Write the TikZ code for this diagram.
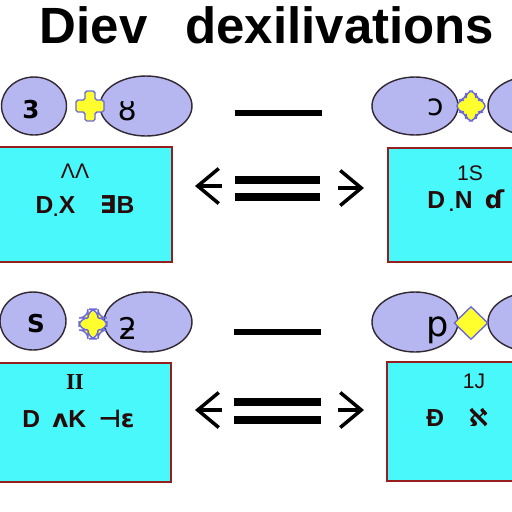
\documentclass[tikz,border=0pt]{standalone}
\usepackage{fontspec}
\setmainfont{Liberation Sans}
\newfontfamily\symfont{DejaVu Sans}
\newfontfamily\slabfont{Liberation Serif}
\usetikzlibrary{arrows.meta,positioning,shapes.geometric,calc}

\definecolor{lobefill}{RGB}{182,182,240}
\definecolor{lobeline}{RGB}{50,40,50}
\definecolor{jointfill}{RGB}{255,255,45}
\definecolor{jointline}{RGB}{105,105,220}
\definecolor{panelfill}{RGB}{72,248,250}
\definecolor{panelline}{RGB}{150,30,30}
\definecolor{ink}{RGB}{40,10,10}

\begin{document}
\begin{tikzpicture}[
  x=0.02cm, y=-0.02cm,
  lobe/.style={ellipse, draw=lobeline, fill=lobefill, line width=0.8pt, inner sep=0pt},
  joint/.style={draw=jointline, fill=jointfill, line width=0.8pt},
  panel/.style={rectangle, draw=panelline, fill=panelfill, line width=0.8pt, inner sep=0pt},
  glyph/.style={font=\symfont\bfseries\fontsize{14}{16}\selectfont, text=black, inner sep=0pt},
  paneltext/.style={font=\bfseries\fontsize{14}{16}\selectfont, text=ink, inner sep=0pt},
  bar/.style={line width=3.4pt},
  dbar/.style={line width=4pt},
  barb/.style={-{Straight Barb[length=0.42cm, width=0.7cm]}, line width=2pt}
]
\clip (0,0) rectangle (512,512);
\fill[white] (0,0) rectangle (512,512);

% Title
\node[font=\bfseries\fontsize{29}{34}\selectfont] (title) at (267,25)
  {Diev\hspace{0.76cm}dexilivations};

% Upper row: lobes and joints
\node[lobe, minimum width=1.3cm, minimum height=1.16cm] (e1L) at (34,106) {};
\node[lobe, minimum width=1.84cm, minimum height=1.2cm] (e1R) at (146,106) {};
\node[lobe, minimum width=1.72cm, minimum height=1.16cm] (e2L) at (415,106) {};
\node[lobe, minimum width=1.84cm, minimum height=1.2cm] (e2R) at (534,106) {};
\coordinate (j1) at (90,106);
\coordinate (j2) at (471,106);

% Lower row: lobes and joints
\node[lobe, minimum width=1.32cm, minimum height=1.16cm] (e3L) at (33,321) {};
\node[lobe, minimum width=1.76cm, minimum height=1.2cm] (e3R) at (148,322) {};
\node[lobe, minimum width=1.72cm, minimum height=1.2cm] (e4L) at (415,322) {};
\node[lobe, minimum width=1.84cm, minimum height=1.2cm] (e4R) at (534,322) {};
\coordinate (j3) at (93,324);
\node[joint, diamond, minimum width=0.68cm, minimum height=0.66cm, inner sep=0pt] (j4) at (471,323) {};

\foreach \j/\rc in {j1/1pt, j2/4pt, j3/5pt}
  \draw[joint, rounded corners=\rc] (\j) ++(-14,-6) -- ++(9,0) -- ++(0,-9) -- ++(10,0)
    -- ++(0,9) -- ++(9,0) -- ++(0,12) -- ++(-9,0) -- ++(0,9) -- ++(-10,0)
    -- ++(0,-9) -- ++(-9,0) -- cycle;

% Lobe glyphs
\node[glyph] at (31,110) {3};
\node[glyph, font=\symfont\fontsize{17}{19}\selectfont] at (128,111) {ȣ};
\node[glyph, font=\symfont\fontsize{17}{19}\selectfont] at (436,107) {ɔ};
\node[glyph] at (36,324) {S};
\node[glyph, font=\symfont\fontsize{17}{19}\selectfont] at (128,328) {ƻ};
\node[glyph, font=\symfont\fontsize{20}{22}\selectfont] at (438,330) {p};

% Panels
\node[panel, minimum width=3.48cm, minimum height=2.3cm] (b1) at (85,204.5) {};
\node[panel, minimum width=3.16cm, minimum height=2.28cm] (b2) at (467,205) {};
\node[panel, minimum width=3.46cm, minimum height=2.38cm] (b3) at (84.5,422.5) {};
\node[panel, minimum width=3.18cm, minimum height=2.38cm] (b4) at (466.5,421.5) {};

% Panel texts
\node[paneltext, font=\fontsize{12}{14}\selectfont, anchor=base] at (75,178) {ΛΛ};
\node[paneltext, anchor=base] at (85,213) {D\textsubscript{\textbf{.}}X\quad{\symfont ∃}B};
\node[paneltext, font=\fontsize{12}{14}\selectfont, anchor=base] at (470,180) {1S};
\node[paneltext, anchor=base west] at (427,208) {D\,\textsubscript{\textbf{.}}N\enspace{\symfont ɗ}};
\node[paneltext, font=\slabfont\bfseries\fontsize{13}{15}\selectfont, anchor=base] at (75,389) {II};
\node[paneltext, anchor=base west] at (22,427) {D\enspace{\symfont ʌ}K\enspace{\symfont ⊣ɛ}};
\node[paneltext, font=\fontsize{12}{14}\selectfont, anchor=base] at (474,388) {1J};
\node[paneltext, anchor=base west] at (426,426) {Ð\quad{\symfont ℵ}};

% Bars between the panels
\coordinate (s1a) at (235,113); \coordinate (s1b) at (322,113);
\coordinate (d1a) at (235,180); \coordinate (d1b) at (320,180);
\coordinate (d2a) at (235,197); \coordinate (d2b) at (320,197);
\coordinate (s2a) at (234,332); \coordinate (s2b) at (321,332);
\coordinate (d3a) at (234,402); \coordinate (d3b) at (321,402);
\coordinate (d4a) at (234,420); \coordinate (d4b) at (321,420);
\draw[bar] (s1a) -- (s1b);
\draw[dbar] (d1a) -- (d1b);
\draw[dbar] (d2a) -- (d2b);
\draw[bar] (s2a) -- (s2b);
\draw[dbar] (d3a) -- (d3b);
\draw[dbar] (d4a) -- (d4b);

% Arrowheads
\coordinate (a1s) at (222,186); \coordinate (a1t) at (195,186);
\coordinate (a2s) at (338,188); \coordinate (a2t) at (364,188);
\coordinate (a3s) at (222,410); \coordinate (a3t) at (195,410);
\coordinate (a4s) at (338,410); \coordinate (a4t) at (364,410);
\draw[barb] (a1s) -- (a1t);
\draw[barb] (a2s) -- (a2t);
\draw[barb] (a3s) -- (a3t);
\draw[barb] (a4s) -- (a4t);

\end{tikzpicture}
\end{document}
